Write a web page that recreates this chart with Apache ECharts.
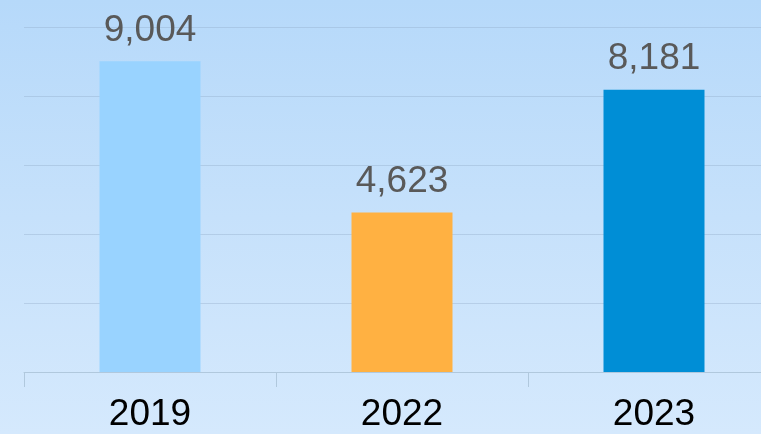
<!DOCTYPE html>
<html>
<head>
<meta charset="utf-8">
<script src="https://cdn.jsdelivr.net/npm/echarts@6/dist/echarts.min.js"></script>
<style>
	html, body { margin: 0; padding: 0; }
	#chart {
		width: 761px;
		height: 434px;
		background: linear-gradient(to bottom, #b6d9fa 0%, #c6e1fb 50%, #d5e9fd 100%);
	}
</style>
</head>
<body>
<div id="chart"></div>
<script>
// 数据
var years = ['2019', '2022', '2023'];
var values = [9004, 4623, 8181];

// 样式
var barColors = ['#99d3ff', '#ffb142', '#008ed6'];

var myChart = echarts.init(document.getElementById('chart'));

var option = {
	backgroundColor: 'transparent',
	animation: false,
	grid: {
		left: 24,
		width: 756,
		top: 27,
		height: 345,
		outerBoundsMode: 'none'
	},
	xAxis: {
		type: 'category',
		data: years,
		axisLine: {
			lineStyle: { color: '#b0c8dd', width: 1 }
		},
		axisTick: {
			show: true,
			length: 15,
			lineStyle: { color: '#b0c8dd' }
		},
		axisLabel: {
			color: '#000000',
			fontSize: 37,
			fontFamily: 'Liberation Sans',
			margin: 24
		}
	},
	yAxis: {
		type: 'value',
		min: 0,
		max: 10000,
		interval: 2000,
		axisLabel: { show: false },
		axisLine: { show: false },
		axisTick: { show: false },
		splitLine: {
			lineStyle: { color: 'rgba(140,165,195,0.35)', width: 1 }
		}
	},
	series: [{
		type: 'bar',
		barWidth: 101,
		data: values.map(function(v, i) {
			return { value: v, itemStyle: { color: barColors[i] } };
		}),
		label: {
			show: true,
			position: 'top',
			distance: 12,
			color: '#595959',
			fontSize: 37,
			fontFamily: 'Liberation Sans',
			formatter: function(p) {
				return p.value.toLocaleString('en-US');
			}
		}
	}]
};

myChart.setOption(option);
</script>
</body>
</html>
